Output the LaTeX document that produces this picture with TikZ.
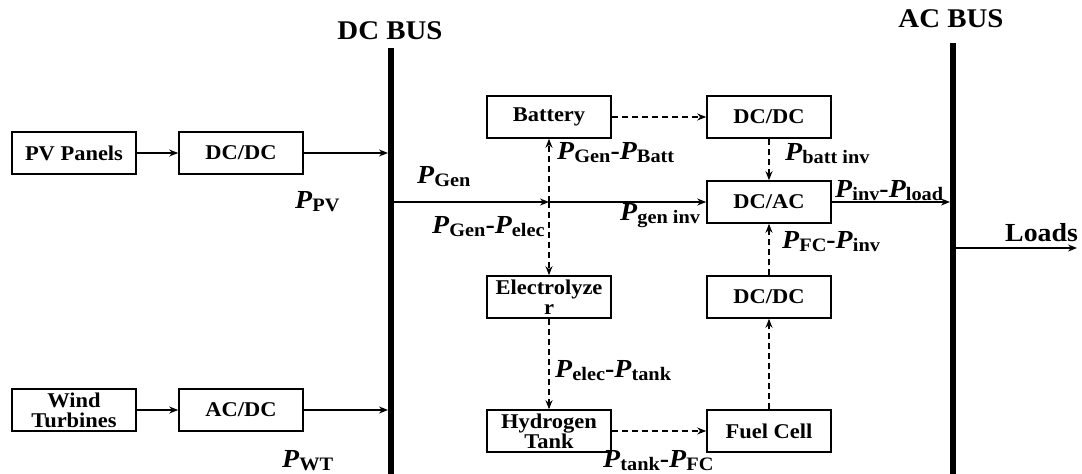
\documentclass[tikz,border=0pt]{standalone}
\usepackage{fontspec}
\setmainfont[FakeStretch=1.07]{Liberation Serif}
\usetikzlibrary{arrows.meta}
\newcommand\PL[1]{\textit{P}\raisebox{-0.25ex}{\fontsize{19}{20}\selectfont #1}}
\begin{document}
\begin{tikzpicture}[x=1pt,y=-1pt,
  box/.style={draw, line width=1.6pt, minimum width=124pt, minimum height=42pt, inner sep=0pt,
    font=\fontsize{21}{20}\selectfont\bfseries, align=center},
  lbl/.style={inner sep=0pt, anchor=west, font=\fontsize{26}{28}\selectfont\bfseries},
  arr/.style={line width=1.3pt, -{Stealth[length=9pt,width=7pt]}},
  darr/.style={arr, dash pattern=on 6pt off 4pt},
  bus/.style={line width=6pt},
  bustitle/.style={inner sep=0pt, font=\fontsize{27}{28}\selectfont\bfseries}]
\useasboundingbox (0,0) rectangle (1082,474);

% buses
\coordinate (dctop) at (391,48);
\coordinate (dcbot) at (391,474);
\coordinate (actop) at (953,43);
\coordinate (acbot) at (953,474);
\draw[bus] (dctop) -- (dcbot);
\draw[bus] (actop) -- (acbot);
\coordinate (dcL) at (388,0);
\coordinate (dcR) at (394,0);
\coordinate (acL) at (950,0);
\coordinate (acR) at (956,0);
\node[bustitle] (dct) at (390,31) {DC BUS};
\node[bustitle] (act) at (951,19) {AC BUS};

% boxes
\node[box] (pv) at (74,153) {PV Panels};
\node[box] (dc1) at (241,153) {DC/DC};
\node[box] (wt) at (74,410) {Wind\\Turbines};
\node[box] (acdc) at (241,410) {AC/DC};
\node[box] (bat) at (549,117) {Battery};
\node[box] (dc2) at (769,117) {DC/DC};
\node[box] (dcac) at (769,202) {DC/AC};
\node[box] (ely) at (549,297) {Electrolyze\\r};
\node[box] (dc3) at (769,297) {DC/DC};
\node[box] (ht) at (549,431) {Hydrogen\\Tank};
\node[box] (fc) at (769,431) {Fuel Cell};

% solid connectors
\draw[arr] (pv) -- (dc1);
\draw[arr] (dc1) -- (dc1 -| dcL);
\draw[arr] (wt) -- (acdc);
\draw[arr] (acdc) -- (acdc -| dcL);
\coordinate (jn) at (549,202);
\draw[arr] (jn -| dcR) -- (jn);
\draw[arr] (jn) -- (dcac.west);
\draw[arr] (dcac) -- (dcac -| acL);
\coordinate (ldend) at (1077,248);
\draw[arr] (ldend -| acR) -- (ldend);

% dashed connectors
\draw[darr] (jn) -- (bat.south);
\draw[darr] (jn) -- (ely.north);
\draw[darr] (bat) -- (dc2);
\draw[darr] (dc2) -- (dcac);
\draw[darr] (ely) -- (ht);
\draw[darr] (ht) -- (fc);
\draw[darr] (fc) -- (dc3);
\draw[darr] (dc3) -- (dcac);

% labels
\node[lbl] (lpv) at (295,202) {\PL{PV}};
\node[lbl] (lwt) at (282,461) {\PL{WT}};
\node[lbl] (lgen) at (417,177) {\PL{Gen}};
\node[lbl] (lgb) at (557,153) {\PL{Gen}-\PL{Batt}};
\node[lbl] (lge) at (432,227) {\PL{Gen}-\PL{elec}};
\node[lbl] (lgi) at (620,216) {\PL{gen inv}};
\node[lbl] (lbi) at (785,154) {\PL{batt inv}};
\node[lbl] (lil) at (835,191) {\PL{inv}-\PL{load}};
\node[lbl] (lfi) at (782,242) {\PL{FC}-\PL{inv}};
\node[lbl] (let) at (555,371) {\PL{elec}-\PL{tank}};
\node[lbl] (ltf) at (603,461) {\PL{tank}-\PL{FC}};
\node[lbl] (lld) at (1005,233) {Loads};
\end{tikzpicture}
\end{document}
